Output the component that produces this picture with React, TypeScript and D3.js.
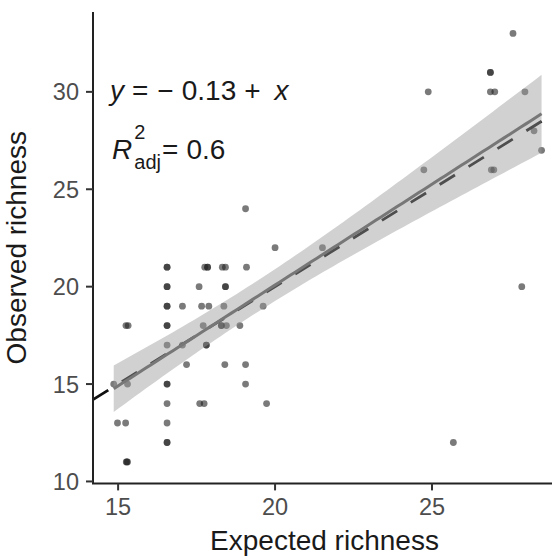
import React from "react";
import * as d3 from "d3";

const expectedRichness = [
  27.58,
  26.86, 26.86,
  24.88, 26.86, 27.0, 27.96,
  28.25,
  28.49,
  24.74, 26.89, 26.97,
  19.06,
  20.0, 21.51,
  16.56, 16.56, 17.76, 17.85, 17.85, 18.32, 18.42, 19.09,
  16.56, 16.56, 17.58, 18.42, 18.42, 27.86,
  16.56, 16.56, 17.05, 17.66, 17.89, 18.37, 19.62,
  15.25, 15.32, 16.56, 16.56, 17.71, 18.29, 18.29, 18.45, 18.88,
  16.56, 17.05, 17.81, 17.81,
  17.18, 18.4, 19.06,
  14.86, 15.3, 16.56, 16.56, 19.06,
  16.56, 17.6, 17.74, 19.73,
  14.98, 15.24, 16.56,
  16.56, 16.56, 25.68,
  15.26, 15.3, 15.28,
];
const observedRichness = [
  33,
  31, 31,
  30, 30, 30, 30,
  28,
  27,
  26, 26, 26,
  24,
  22, 22,
  21, 21, 21, 21, 21, 21, 21, 21,
  20, 20, 20, 20, 20, 20,
  19, 19, 19, 19, 19, 19, 19,
  18, 18, 18, 18, 18, 18, 18, 18, 18,
  17, 17, 17, 17,
  16, 16, 16,
  15, 15, 15, 15, 15,
  14, 14, 14, 14,
  13, 13, 13,
  12, 12, 12,
  11, 11, 11,
];

const xTicks = [15, 20, 25];
const yTicks = [10, 15, 20, 25, 30];
const xDomain = [14.2, 28.95];
const yDomain = [9.9, 34.1];
const T_CRIT = 1.99; // 95% t quantile for n-2 df

const W = 552;
const H = 559;
const left = 93;
const top = 12;
const bottom = 483.4;
const right = 556;

const FONT = "'Liberation Sans', Arial, Helvetica, sans-serif";

export default function App() {
  const x = d3.scaleLinear().domain(xDomain).range([left, right]);
  const y = d3.scaleLinear().domain(yDomain).range([bottom, top]);

  const pts = expectedRichness.map((ex, i) => ({ ex, ob: observedRichness[i] }));
  const n = pts.length;
  const mx = d3.mean(pts, (p) => p.ex) as number;
  const my = d3.mean(pts, (p) => p.ob) as number;
  const sxx = d3.sum(pts, (p) => (p.ex - mx) ** 2);
  const sxy = d3.sum(pts, (p) => (p.ex - mx) * (p.ob - my));
  const slope = sxy / sxx;
  const intercept = my - slope * mx;
  const sse = d3.sum(pts, (p) => (p.ob - (intercept + slope * p.ex)) ** 2);
  const s = Math.sqrt(sse / (n - 2));

  const [x0, x1] = d3.extent(expectedRichness) as [number, number];
  const grid = d3.range(0, 81).map((i) => x0 + ((x1 - x0) * i) / 80);
  const band = grid.map((gx) => {
    const fit = intercept + slope * gx;
    const hw = T_CRIT * s * Math.sqrt(1 / n + (gx - mx) ** 2 / sxx);
    return { gx, lo: fit - hw, hi: fit + hw, fit };
  });

  const area = d3
    .area<{ gx: number; lo: number; hi: number }>()
    .x((d) => x(d.gx))
    .y0((d) => y(d.lo))
    .y1((d) => y(d.hi));
  const line = d3
    .line<{ gx: number; fit: number }>()
    .x((d) => x(d.gx))
    .y((d) => y(d.fit));

  const xd = x.domain();

  return (
    <svg
      width={W}
      height={H}
      style={{ position: "absolute", left: 0, top: 0, background: "#fff" }}
      fontFamily={FONT}
    >
      <defs>
        <clipPath id="panel">
          <rect x={left} y={top} width={right - left} height={bottom - top} />
        </clipPath>
      </defs>
      <g clipPath="url(#panel)">
        {pts.map((p, i) => (
          <circle key={i} cx={x(p.ex)} cy={y(p.ob)} r={3.4} fill="#222" fillOpacity={0.6} />
        ))}
        <line
          x1={x(xd[0])}
          y1={y(xd[0])}
          x2={x(xd[1])}
          y2={y(xd[1])}
          stroke="#111"
          strokeWidth={2.8}
          strokeDasharray="18 16"
        />
        <path d={area(band) as string} fill="#999" fillOpacity={0.45} />
        <path d={line(band) as string} fill="none" stroke="#777" strokeWidth={3} />
      </g>

      {/* axes */}
      <line x1={left} y1={top} x2={left} y2={bottom} stroke="#222" strokeWidth={2} />
      <line x1={left - 1} y1={bottom} x2={W} y2={bottom} stroke="#222" strokeWidth={2} />
      {yTicks.map((t) => (
        <g key={t}>
          <line x1={left - 7} x2={left} y1={y(t)} y2={y(t)} stroke="#333" strokeWidth={2} />
          <text x={left - 14} y={y(t)} dy="0.36em" textAnchor="end" fontSize={23.5} fill="#4d4d4d">
            {t}
          </text>
        </g>
      ))}
      {xTicks.map((t) => (
        <g key={t}>
          <line x1={x(t)} x2={x(t)} y1={bottom} y2={bottom + 7} stroke="#333" strokeWidth={2} />
          <text x={x(t)} y={bottom + 32} textAnchor="middle" fontSize={23.5} fill="#4d4d4d">
            {t}
          </text>
        </g>
      ))}
      <text x={(left + right) / 2} y={550} textAnchor="middle" fontSize={28} fill="#1a1a1a">
        Expected richness
      </text>
      <text
        transform={`translate(26,${(top + bottom) / 2}) rotate(-90)`}
        textAnchor="middle"
        fontSize={28}
        fill="#1a1a1a"
      >
        Observed richness
      </text>

      {/* equation */}
      <text x={110} y={100} fontSize={28} fill="#1a1a1a">
        <tspan fontStyle="italic">y</tspan>
        <tspan dx={8}>=</tspan>
        <tspan dx={9}>−</tspan>
        <tspan dx={8}>0.13</tspan>
        <tspan dx={8}>+</tspan>
        <tspan dx={14} fontStyle="italic">x</tspan>
      </text>
      <text x={112} y={159} fontSize={28} fill="#1a1a1a">
        <tspan fontStyle="italic">R</tspan>
        <tspan fontSize={20} dx={2} dy={-20}>2</tspan>
        <tspan fontSize={20} dx={-11} dy={30}>adj</tspan>
        <tspan dx={1} dy={-10}>=</tspan>
        <tspan dx={8}>0.6</tspan>
      </text>
    </svg>
  );
}
